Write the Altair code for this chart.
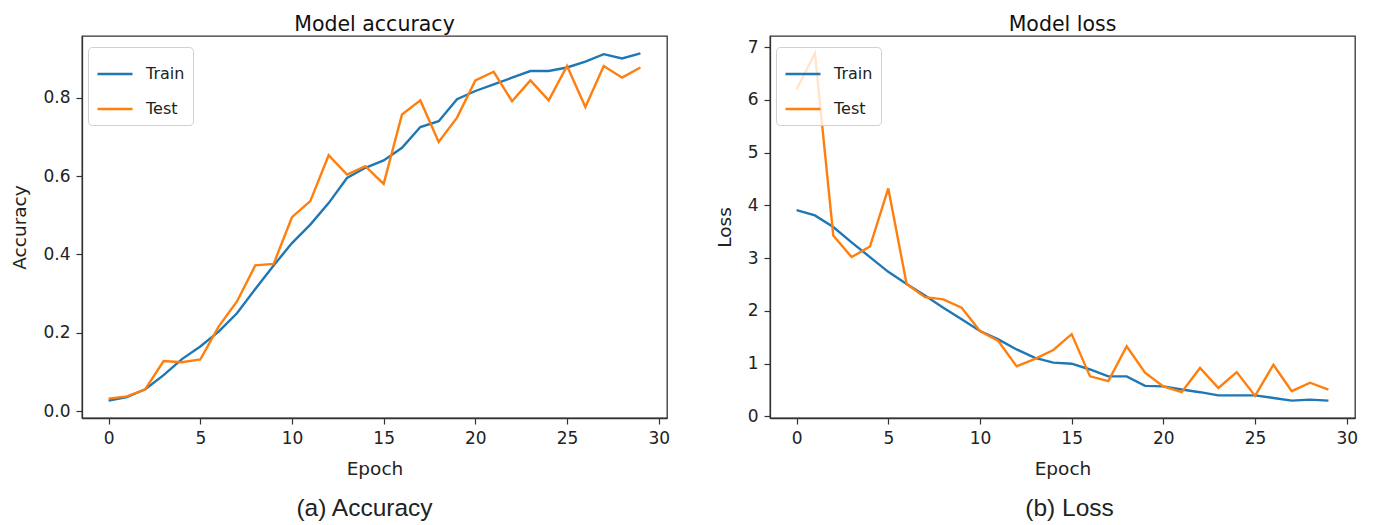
import altair as alt
import pandas as pd

# ---------------- data ----------------
epochs = list(range(30))

train_acc = [0.027, 0.036, 0.056, 0.092, 0.133, 0.165, 0.203, 0.250, 0.312, 0.372,
             0.429, 0.476, 0.531, 0.595, 0.621, 0.640, 0.672, 0.725, 0.740, 0.796,
             0.817, 0.834, 0.851, 0.868, 0.868, 0.877, 0.892, 0.911, 0.900, 0.913]
test_acc = [0.032, 0.038, 0.056, 0.128, 0.125, 0.132, 0.216, 0.280, 0.372, 0.376,
            0.495, 0.536, 0.653, 0.604, 0.625, 0.580, 0.757, 0.793, 0.687, 0.749,
            0.844, 0.866, 0.791, 0.844, 0.793, 0.881, 0.776, 0.881, 0.851, 0.877]

train_loss = [3.91, 3.81, 3.59, 3.30, 3.02, 2.74, 2.51, 2.29, 2.06, 1.84,
              1.62, 1.46, 1.27, 1.11, 1.02, 1.00, 0.89, 0.76, 0.76, 0.58,
              0.57, 0.51, 0.46, 0.40, 0.40, 0.40, 0.35, 0.30, 0.32, 0.30]
test_loss = [6.20, 6.88, 3.43, 3.02, 3.22, 4.32, 2.51, 2.26, 2.22, 2.06,
             1.62, 1.43, 0.95, 1.09, 1.26, 1.56, 0.76, 0.67, 1.33, 0.83,
             0.57, 0.46, 0.92, 0.54, 0.84, 0.39, 0.98, 0.48, 0.64, 0.51]

series_names = ["Train", "Test"]
series_colors = ["#1f77b4", "#ff7f0e"]
panel_titles = ["Model accuracy", "Model loss"]
y_titles = ["Accuracy", "Loss"]
x_title = "Epoch"
captions = ["(a) Accuracy", "(b) Loss"]
x_ticks = [0, 5, 10, 15, 20, 25, 30]
acc_ticks = [0.0, 0.2, 0.4, 0.6, 0.8]
loss_ticks = [0, 1, 2, 3, 4, 5, 6, 7]

# ---------------- layout ----------------
W, H = 585, 382
FONT = "DejaVu Sans"
TEXT = "#222222"


def margins(vals):
    lo, hi = min(vals), max(vals)
    pad = 0.05 * (hi - lo)
    return [lo - pad, hi + pad]


x_dom = margins(epochs)


def panel(train, test, ytitle, yticks, yfmt, title, caption, cap_dx):
    df_train = pd.DataFrame({"epoch": epochs, "value": train, "series": "Train"})
    df_test = pd.DataFrame({"epoch": epochs, "value": test, "series": "Test"})
    y_dom = margins(train + test)

    x = alt.X("epoch:Q",
              scale=alt.Scale(domain=x_dom, nice=False, zero=False),
              axis=alt.Axis(values=x_ticks, format="d", title=x_title))
    y = alt.Y("value:Q",
              scale=alt.Scale(domain=y_dom, nice=False, zero=False),
              axis=alt.Axis(values=yticks, format=yfmt, title=ytitle))
    color = alt.Color("series:N",
                      scale=alt.Scale(domain=series_names, range=series_colors),
                      sort=series_names,
                      legend=alt.Legend(title=None, orient="none",
                                        legendX=6, legendY=11,
                                        symbolType="stroke", symbolSize=1225,
                                        symbolStrokeWidth=2.6,
                                        labelFontSize=16, labelFont=FONT,
                                        labelColor=TEXT, labelOffset=12,
                                        rowPadding=8, padding=8,
                                        fillColor="rgba(255,255,255,0.8)",
                                        strokeColor="#d0d0d0", cornerRadius=4))

    l_train = alt.Chart(df_train).mark_line(strokeWidth=2.4).encode(x=x, y=y, color=color)
    l_test = alt.Chart(df_test).mark_line(strokeWidth=2.4).encode(x=x, y=y, color=color)
    cap = alt.Chart(pd.DataFrame({"caption": [caption]})).mark_text(
        font="Liberation Sans", fontSize=24.5, color=TEXT,
        align="center", baseline="alphabetic"
    ).encode(text="caption:N", x=alt.value(W / 2 + cap_dx), y=alt.value(480))

    return alt.layer(l_train, l_test, cap).properties(
        width=W, height=H,
        title=alt.Title(title, font=FONT, fontSize=20.5, fontWeight="normal",
                        color="#111111", anchor="middle", offset=1)
    )


left = panel(train_acc, test_acc, y_titles[0], acc_ticks, ".1f",
             panel_titles[0], captions[0], -10)
right = panel(train_loss, test_loss, y_titles[1], loss_ticks, "d",
              panel_titles[1], captions[1], 7)

chart = alt.hconcat(left, right, spacing=103, bounds="flush").resolve_scale(
    color="independent"
).properties(
    padding={"left": 2, "top": 5, "right": 5, "bottom": 0},
    background="white"
).configure_view(
    stroke="#333333", strokeWidth=1.3
).configure_axis(
    grid=False, domainColor="#333333", domainWidth=1.3,
    tickColor="#333333", tickSize=6, tickWidth=1.2,
    labelFont=FONT, labelFontSize=17, labelColor=TEXT, labelPadding=6,
    titleFont=FONT, titleFontSize=18.5, titleFontWeight="normal",
    titleColor=TEXT, titlePadding=13
)

chart.save("out.html", embed_options={"renderer": "svg", "actions": False})
